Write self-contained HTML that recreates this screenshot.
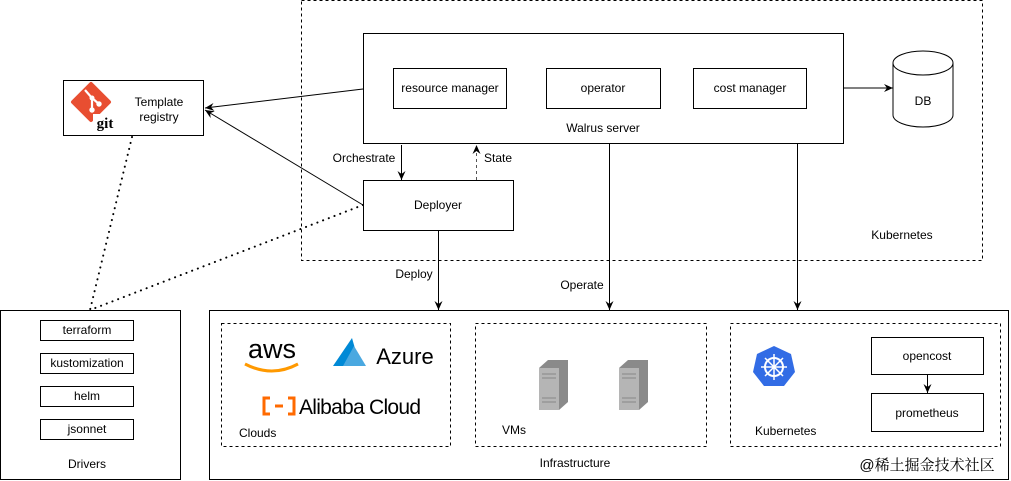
<!DOCTYPE html>
<html><head><meta charset="utf-8"><style>
html,body{margin:0;padding:0;background:#fff;}
svg{display:block;font-family:"Liberation Sans",Arial,sans-serif;}
text{font-size:12px;fill:#000;}
</style></head><body>
<svg width="1011" height="481" viewBox="0 0 1011 481" xmlns="http://www.w3.org/2000/svg">
<defs>
<marker id="a" markerWidth="10" markerHeight="10" refX="9" refY="5" orient="auto" markerUnits="userSpaceOnUse"><path d="M0,1 L9,5 L0,9 L3,5 Z" fill="#000"/></marker>
</defs>
<rect x="301.5" y="0.5" width="681" height="260" fill="none" stroke="#000" stroke-dasharray="3,3"/>
<text x="902" y="239" text-anchor="middle">Kubernetes</text>
<rect x="363.5" y="33.5" width="480" height="110" fill="#fff" stroke="#000"/>
<rect x="393.5" y="68.5" width="113" height="40" fill="#fff" stroke="#000"/>
<text x="450" y="92" text-anchor="middle">resource manager</text>
<rect x="546.5" y="68.5" width="114" height="40" fill="#fff" stroke="#000"/>
<text x="603" y="92" text-anchor="middle">operator</text>
<rect x="693.5" y="68.5" width="113" height="40" fill="#fff" stroke="#000"/>
<text x="750" y="92" text-anchor="middle">cost manager</text>
<text x="603" y="132" text-anchor="middle">Walrus server</text>
<line x1="843" y1="88" x2="893" y2="88" stroke="#000" marker-end="url(#a)"/>
<path d="M893,63 L893,115 A30,12 0 0 0 953,115 L953,63 A30,12 0 0 0 893,63 A30,12 0 0 0 953,63" fill="#fff" stroke="#000"/>
<text x="923" y="105" text-anchor="middle">DB</text>
<rect x="63.5" y="80.5" width="140" height="55" fill="#fff" stroke="#000"/>
<path d="M91,84 L109,102 L91,120 L73,102 Z" fill="#e84e31" stroke="#e84e31" stroke-width="4" stroke-linejoin="round"/>
<g fill="none" stroke="#fff" stroke-width="2.2">
<path d="M85,90 L92,98 L92,110 M92,98 L99,104"/>
</g>
<circle cx="92" cy="98" r="2.5" fill="#fff"/><circle cx="92" cy="110" r="2.7" fill="#fff"/><circle cx="99" cy="104" r="2.7" fill="#fff"/>
<rect x="93" y="114" width="22" height="16" fill="#fff"/>
<text x="105" y="128" text-anchor="middle" style="font-family:'Liberation Serif',serif;font-weight:bold;font-size:15px" fill="#333">git</text>
<text x="159" y="106" text-anchor="middle">Template</text>
<text x="159" y="121" text-anchor="middle">registry</text>
<line x1="363" y1="89" x2="205" y2="108" stroke="#000" marker-end="url(#a)"/>
<line x1="363" y1="205" x2="205" y2="110" stroke="#000" marker-end="url(#a)"/>
<rect x="363.5" y="180.5" width="150" height="50" fill="#fff" stroke="#000"/>
<text x="438" y="209" text-anchor="middle">Deployer</text>
<line x1="401.5" y1="145" x2="401.5" y2="180" stroke="#000" marker-end="url(#a)"/>
<text x="364" y="162" text-anchor="middle">Orchestrate</text>
<line x1="476.5" y1="180" x2="476.5" y2="145" stroke="#555" stroke-dasharray="3,3" marker-end="url(#a)"/>
<text x="498" y="162" text-anchor="middle">State</text>
<line x1="438.5" y1="231" x2="438.5" y2="310" stroke="#000" marker-end="url(#a)"/>
<text x="414" y="278" text-anchor="middle">Deploy</text>
<line x1="609.5" y1="144" x2="609.5" y2="310" stroke="#000" marker-end="url(#a)"/>
<text x="582" y="289" text-anchor="middle">Operate</text>
<line x1="797.5" y1="144" x2="797.5" y2="310" stroke="#000" marker-end="url(#a)"/>
<line x1="132" y1="137" x2="90" y2="310" stroke="#000" stroke-width="2" stroke-dasharray="0.1,6" stroke-linecap="round"/>
<line x1="363" y1="205" x2="90" y2="310" stroke="#000" stroke-width="2" stroke-dasharray="0.1,6" stroke-linecap="round"/>
<rect x="0.5" y="310.5" width="180" height="169" fill="#fff" stroke="#000"/>
<rect x="40.5" y="320.5" width="93" height="20" fill="#fff" stroke="#000"/><text x="87" y="334" text-anchor="middle">terraform</text>
<rect x="40.5" y="353.5" width="93" height="20" fill="#fff" stroke="#000"/><text x="87" y="367" text-anchor="middle">kustomization</text>
<rect x="40.5" y="386.5" width="93" height="20" fill="#fff" stroke="#000"/><text x="87" y="400" text-anchor="middle">helm</text>
<rect x="40.5" y="419.5" width="93" height="20" fill="#fff" stroke="#000"/><text x="87" y="433" text-anchor="middle">jsonnet</text>
<text x="87" y="468" text-anchor="middle">Drivers</text>
<rect x="209.5" y="310.5" width="799" height="169" fill="none" stroke="#000"/>
<text x="575" y="467" text-anchor="middle">Infrastructure</text>
<rect x="221.5" y="323.5" width="229" height="123" fill="none" stroke="#000" stroke-dasharray="3,3"/>
<rect x="475.5" y="323.5" width="231" height="123" fill="none" stroke="#000" stroke-dasharray="3,3"/>
<rect x="730.5" y="323.5" width="270" height="123" fill="none" stroke="#000" stroke-dasharray="3,3"/>
<text x="239" y="437">Clouds</text>
<text x="502" y="434">VMs</text>
<text x="755" y="435">Kubernetes</text>
<text x="272" y="358" text-anchor="middle" style="font-size:27px" fill="#232f3e">aws</text>
<path d="M245,364 Q272,378 298,364" fill="none" stroke="#f90" stroke-width="3"/>
<path d="M333,366 L352,338 L360,366 Z" fill="#0089d6"/>
<path d="M354,346 L366,366 L343,366 Z" fill="#4aa8e0"/>
<text x="405" y="364" text-anchor="middle" style="font-size:22px" fill="#2a8fd6">Azure</text>
<path d="M270,398 L264,398 L264,414 L270,414 M275,406 L283,406 M288,398 L294,398 L294,414 L288,414" fill="none" stroke="#ff6a00" stroke-width="3"/>
<text x="299" y="414" style="font-size:21px" fill="#ff6a00" textLength="122">Alibaba Cloud</text>
<g>
<path d="M539,368 L548,360 L568,360 L568,402 L559,410 L539,410 Z" fill="#8a8a8a"/>
<rect x="539" y="368" width="20" height="42" fill="#b5b5b5"/>
<g stroke="#888" stroke-width="1"><line x1="542" y1="374" x2="556" y2="374"/><line x1="542" y1="378" x2="556" y2="378"/><line x1="542" y1="398" x2="556" y2="398"/><line x1="542" y1="402" x2="556" y2="402"/></g>
<path d="M619,368 L628,360 L648,360 L648,402 L639,410 L619,410 Z" fill="#8a8a8a"/>
<rect x="619" y="368" width="20" height="42" fill="#b5b5b5"/>
<g stroke="#888" stroke-width="1"><line x1="622" y1="374" x2="636" y2="374"/><line x1="622" y1="378" x2="636" y2="378"/><line x1="622" y1="398" x2="636" y2="398"/><line x1="622" y1="402" x2="636" y2="402"/></g>
</g>
<polygon points="774,346 791,354 795,372 784,386 764,386 753,372 757,354" fill="#326ce5"/>
<circle cx="774" cy="367" r="9" fill="none" stroke="#fff" stroke-width="2"/>
<g stroke="#fff" stroke-width="1.5"><line x1="774" y1="354" x2="774" y2="380"/><line x1="761" y1="367" x2="787" y2="367"/><line x1="765" y1="358" x2="783" y2="376"/><line x1="783" y1="358" x2="765" y2="376"/></g>
<rect x="871.5" y="337.5" width="112" height="37" fill="#fff" stroke="#000"/><text x="927" y="360" text-anchor="middle">opencost</text>
<line x1="927.5" y1="375" x2="927.5" y2="393" stroke="#000" marker-end="url(#a)"/>
<rect x="871.5" y="393.5" width="112" height="38" fill="#fff" stroke="#000"/><text x="927" y="417" text-anchor="middle">prometheus</text>
<text x="927" y="470" text-anchor="middle" style="font-family:'Liberation Sans','Noto Serif CJK SC',sans-serif;font-size:15px" fill="#c8c8c8">@稀土掘金技术社区</text>
</svg>
</body></html>
